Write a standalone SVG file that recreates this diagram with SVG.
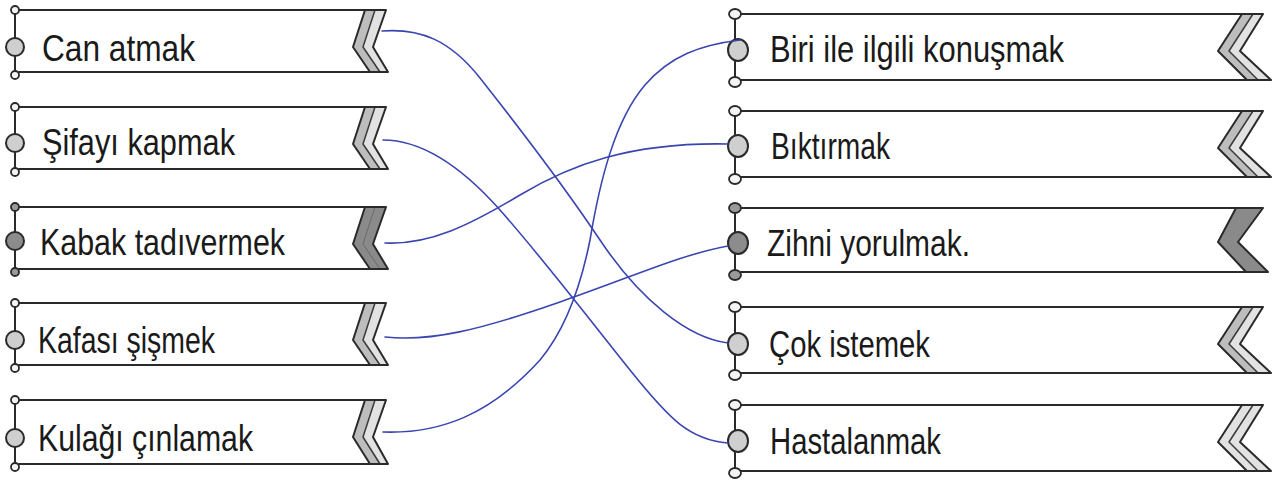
<svg xmlns="http://www.w3.org/2000/svg" width="1285" height="483" viewBox="0 0 1285 483">
<style>
.bg{fill:#ffffff}
.ln{fill:none;stroke:#2a2a2a;stroke-width:2;stroke-linecap:round;stroke-linejoin:round}
.sc{fill:#f4f4f4;stroke:#2a2a2a;stroke-width:1.8}
.bc{fill:#cfcfcf;stroke:#2a2a2a;stroke-width:2}
.scd{fill:#9a9a9a;stroke:#2a2a2a;stroke-width:1.8}
.bcd{fill:#8c8c8c;stroke:#2a2a2a;stroke-width:2}
.b1{fill:#bdbdbd;stroke:none}
.b2{fill:#e2e2e2;stroke:none}
.bd{fill:#8a8a8a;stroke:none}
.mid{fill:none;stroke:#3a3a3a;stroke-width:1.5;stroke-linejoin:round}
.midd{fill:none;stroke:#6a6a6a;stroke-width:1;stroke-linejoin:round}
.t{font-family:"Liberation Sans",Arial,sans-serif;font-size:36px;fill:#1a1a1a}
.c{fill:none;stroke:#3a45b0;stroke-width:1.6;stroke-linecap:round}
</style>
<rect class="bg" x="0" y="0" width="1285" height="483"/>

<g id="left1" transform="translate(0,10)">
<polygon class="b1" points="365,0 353,37 370,62 380,62 363,37 375,0"/>
<polygon class="b2" points="375,0 363,37 380,62 388,62 373,37 386,0"/>
<polyline class="ln" points="365,0 353,37 370,62"/>
<polyline class="mid" points="375,0 363,37 380,62"/>
<path class="ln" d="M19,0 H386 L373,37 L388,62 H19 M15,4 V61"/>
<circle class="sc" cx="15" cy="0" r="4"/><circle class="sc" cx="15" cy="65" r="4"/>
<circle class="bc" cx="15" cy="37" r="9"/>
<text class="t" x="42" y="51" textLength="153" lengthAdjust="spacingAndGlyphs">Can atmak</text>
</g>

<g id="left2" transform="translate(0,107)">
<polygon class="b1" points="365,0 353,37 370,62 380,62 363,37 375,0"/>
<polygon class="b2" points="375,0 363,37 380,62 388,62 373,37 386,0"/>
<polyline class="ln" points="365,0 353,37 370,62"/>
<polyline class="mid" points="375,0 363,37 380,62"/>
<path class="ln" d="M19,0 H386 L373,37 L388,62 H19 M15,4 V61"/>
<circle class="sc" cx="15" cy="0" r="4"/><circle class="sc" cx="15" cy="65" r="4"/>
<circle class="bc" cx="15" cy="36" r="9"/>
<text class="t" x="42" y="48" textLength="193" lengthAdjust="spacingAndGlyphs">Şifayı kapmak</text>
</g>

<g id="left3" transform="translate(0,207)">
<polygon class="bd" points="365,0 353,37 370,62 388,62 373,37 386,0"/>
<polyline class="ln" points="365,0 353,37 370,62"/>
<polyline class="midd" points="375,0 363,37 380,62"/>
<path class="ln" d="M19,0 H386 L373,37 L388,62 H19 M15,4 V61"/>
<circle class="scd" cx="15" cy="0" r="4"/><circle class="scd" cx="15" cy="65" r="4"/>
<circle class="bcd" cx="15" cy="34" r="9"/>
<text class="t" x="40" y="48" textLength="245" lengthAdjust="spacingAndGlyphs">Kabak tadıvermek</text>
</g>

<g id="left4" transform="translate(0,303)">
<polygon class="b1" points="365,0 353,37 370,62 380,62 363,37 375,0"/>
<polygon class="b2" points="375,0 363,37 380,62 388,62 373,37 386,0"/>
<polyline class="ln" points="365,0 353,37 370,62"/>
<polyline class="mid" points="375,0 363,37 380,62"/>
<path class="ln" d="M19,0 H386 L373,37 L388,62 H19 M15,4 V61"/>
<circle class="sc" cx="15" cy="0" r="4"/><circle class="sc" cx="15" cy="65" r="4"/>
<circle class="bc" cx="15" cy="37" r="9"/>
<text class="t" x="38" y="50" textLength="177" lengthAdjust="spacingAndGlyphs">Kafası şişmek</text>
</g>

<g id="left5" transform="translate(0,400)">
<polygon class="b1" points="365,0 353,37 370,64 380,64 363,37 375,0"/>
<polygon class="b2" points="375,0 363,37 380,64 388,64 373,37 386,0"/>
<polyline class="ln" points="365,0 353,37 370,64"/>
<polyline class="mid" points="375,0 363,37 380,64"/>
<path class="ln" d="M19,0 H386 L373,37 L388,64 H19 M15,4 V63"/>
<circle class="sc" cx="15" cy="0" r="4"/><circle class="sc" cx="15" cy="67" r="4"/>
<circle class="bc" cx="15" cy="38" r="9"/>
<text class="t" x="38" y="51" textLength="215" lengthAdjust="spacingAndGlyphs">Kulağı çınlamak</text>
</g>

<g id="right1" transform="translate(0,14)">
<polygon class="b1" points="1242,0 1218,37 1247,66 1258,66 1229,37 1253,0"/>
<polygon class="b2" points="1253,0 1229,37 1258,66 1271,66 1240,37 1263,0"/>
<polyline class="ln" points="1242,0 1218,37 1247,66"/>
<polyline class="mid" points="1253,0 1229,37 1258,66"/>
<path class="ln" d="M741,0 H1263 L1240,37 L1271,66 H741 M735,4 V64"/>
<ellipse class="sc" cx="735" cy="0" rx="6" ry="5"/><ellipse class="sc" cx="735" cy="68" rx="6" ry="5"/>
<ellipse class="bc" cx="738" cy="36" rx="10" ry="11"/>
<text class="t" x="770" y="48" textLength="294" lengthAdjust="spacingAndGlyphs">Biri ile ilgili konuşmak</text>
</g>

<g id="right2" transform="translate(0,111)">
<polygon class="b1" points="1242,0 1218,37 1247,66 1258,66 1229,37 1253,0"/>
<polygon class="b2" points="1253,0 1229,37 1258,66 1271,66 1240,37 1263,0"/>
<polyline class="ln" points="1242,0 1218,37 1247,66"/>
<polyline class="mid" points="1253,0 1229,37 1258,66"/>
<path class="ln" d="M741,0 H1263 L1240,37 L1271,66 H741 M735,4 V64"/>
<ellipse class="sc" cx="735" cy="0" rx="6" ry="5"/><ellipse class="sc" cx="735" cy="68" rx="6" ry="5"/>
<ellipse class="bc" cx="738" cy="35" rx="10" ry="11"/>
<text class="t" x="771" y="48" textLength="119" lengthAdjust="spacingAndGlyphs">Bıktırmak</text>
</g>

<g id="right3" transform="translate(0,208)">
<polygon class="bd" points="1236,0 1218,34 1246,64 1268,64 1238,34 1263,0"/>
<polyline class="ln" points="1236,0 1218,34 1246,64"/>
<path class="ln" d="M741,0 H1263 L1238,34 L1268,64 H741 M735,4 V63"/>
<ellipse class="scd" cx="735" cy="0" rx="6" ry="5"/><ellipse class="scd" cx="735" cy="67" rx="6" ry="5"/>
<ellipse class="bcd" cx="738" cy="35" rx="10" ry="11"/>
<text class="t" x="767" y="48" textLength="203" lengthAdjust="spacingAndGlyphs">Zihni yorulmak.</text>
</g>

<g id="right4" transform="translate(0,307)">
<polygon class="b1" points="1242,0 1218,37 1247,66 1258,66 1229,37 1253,0"/>
<polygon class="b2" points="1253,0 1229,37 1258,66 1271,66 1240,37 1263,0"/>
<polyline class="ln" points="1242,0 1218,37 1247,66"/>
<polyline class="mid" points="1253,0 1229,37 1258,66"/>
<path class="ln" d="M741,0 H1263 L1240,37 L1271,66 H741 M735,4 V64"/>
<ellipse class="sc" cx="735" cy="0" rx="6" ry="5"/><ellipse class="sc" cx="735" cy="68" rx="6" ry="5"/>
<ellipse class="bc" cx="738" cy="37" rx="10" ry="11"/>
<text class="t" x="769" y="50" textLength="161" lengthAdjust="spacingAndGlyphs">Çok istemek</text>
</g>

<g id="right5" transform="translate(0,405)">
<polygon class="b2" points="1242,0 1218,37 1247,66 1271,66 1240,37 1263,0"/>
<polyline class="ln" points="1242,0 1218,37 1247,66"/>
<polyline class="mid" points="1253,0 1229,37 1258,66"/>
<path class="ln" d="M741,0 H1263 L1240,37 L1271,66 H741 M735,4 V64"/>
<ellipse class="sc" cx="735" cy="0" rx="6" ry="5"/><ellipse class="sc" cx="735" cy="68" rx="6" ry="5"/>
<ellipse class="bc" cx="738" cy="36" rx="10" ry="11"/>
<text class="t" x="770" y="49" textLength="171" lengthAdjust="spacingAndGlyphs">Hastalanmak</text>
</g>

<g id="connectors">
<path class="c" d="M382,31 C420,28 450,40 480,78 S560,180 600,240 S688,338 728,343"/>
<path class="c" d="M383,140 C420,140 460,165 500,210 S590,320 630,370 S690,440 728,443"/>
<path class="c" d="M385,243 C430,245 470,225 520,195 S630,142 728,144"/>
<path class="c" d="M385,337 C430,342 480,330 560,302 S680,255 728,246"/>
<path class="c" d="M383,432 C440,434 490,415 540,360 C565,330 580,290 590,240 C600,180 615,120 645,85 C670,56 700,45 740,40"/>
</g>
</svg>
